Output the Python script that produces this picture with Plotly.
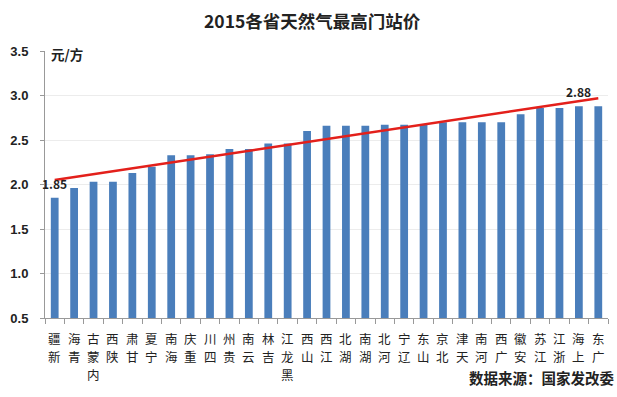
import plotly.graph_objects as go

provinces = ["新疆", "青海", "内蒙古", "陕西", "甘肃", "宁夏", "海南", "重庆", "四川", "贵州",
             "云南", "吉林", "黑龙江", "山西", "江西", "湖北", "湖南", "河北", "辽宁", "山东",
             "北京", "天津", "河南", "广西", "安徽", "江苏", "浙江", "上海", "广东"]
prices = [1.85, 1.96, 2.03, 2.03, 2.13, 2.20, 2.33, 2.33, 2.34, 2.40,
          2.40, 2.46, 2.46, 2.60, 2.66, 2.66, 2.66, 2.67, 2.67, 2.67,
          2.70, 2.70, 2.70, 2.70, 2.79, 2.86, 2.86, 2.88, 2.88]
trend_x = ["新疆", "广东"]
trend_y = [2.05, 2.97]
label_x = ["新疆", "上海"]
label_y = [1.85, 2.88]
y_ticks = [0.5, 1.0, 1.5, 2.0, 2.5, 3.0, 3.5]

FONT = "Noto Sans CJK SC"

fig = go.Figure()
fig.add_trace(go.Bar(x=provinces, y=prices, marker=dict(color="#4a7ebb", line=dict(width=0)),
                     showlegend=False))
fig.add_trace(go.Scatter(x=trend_x, y=trend_y, mode="lines",
                         line=dict(color="#e3201b", width=2.5), showlegend=False))
for lx, ly in zip(label_x, label_y):
    fig.add_annotation(x=lx, y=ly, text=f"<b>{ly:.2f}</b>", showarrow=False,
                       yanchor="bottom", yshift=4,
                       font=dict(family=FONT, size=12, color="#222"))

# category labels: upright characters stacked vertically, read bottom-to-top
for p in provinces:
    for j, ch in enumerate(reversed(list(p))):
        fig.add_annotation(x=p, xref="x", yref="paper", y=0, yanchor="top", xanchor="center",
                           yshift=-(9 + j * 18), text=ch, showarrow=False,
                           font=dict(family=FONT, size=12.5, color="#222"))

fig.add_annotation(xref="paper", yref="paper", x=0.0, y=0.989, xanchor="left", yanchor="middle",
                   xshift=4,
                   text="<b>元/方</b>", showarrow=False, font=dict(family=FONT, size=13.5, color="#222"))
fig.add_annotation(xref="paper", yref="paper", x=1.0, y=-0.2215, xanchor="right", yanchor="middle",
                   xshift=8,
                   text="<b>数据来源：国家发改委</b>", showarrow=False,
                   font=dict(family=FONT, size=14.5, color="#222"))

fig.update_layout(
    width=617, height=397,
    margin=dict(l=45, r=9, t=51, b=79, autoexpand=False),
    paper_bgcolor="white", plot_bgcolor="white",
    bargap=0.6,
    title=dict(text="<b>2015各省天然气最高门站价</b>", x=0.506, xanchor="center", y=0.945,
               yanchor="middle", font=dict(family=FONT, size=17.5, color="#222")),
    xaxis=dict(
        tickmode="array", tickvals=provinces, showticklabels=False,
        ticks="outside", tickson="boundaries", ticklen=5, tickcolor="#999",
        showline=True, linecolor="#999", linewidth=1, showgrid=False,
        range=[-0.5, len(provinces) - 0.5], automargin=False,
    ),
    yaxis=dict(
        range=[0.5, 3.5], tickvals=y_ticks, tickformat=".1f",
        tickfont=dict(family="Liberation Sans", size=13, color="#222", weight="bold"),
        ticks="outside", ticklen=4, tickcolor="#999",
        showline=True, linecolor="#999", linewidth=1,
        showgrid=True, gridcolor="#ececec", gridwidth=1, zeroline=False,
        ticklabelstandoff=9, automargin=False,
    ),
)

fig.write_html("out.html", config={"displayModeBar": False},
               post_script="document.body.style.margin='0';")
